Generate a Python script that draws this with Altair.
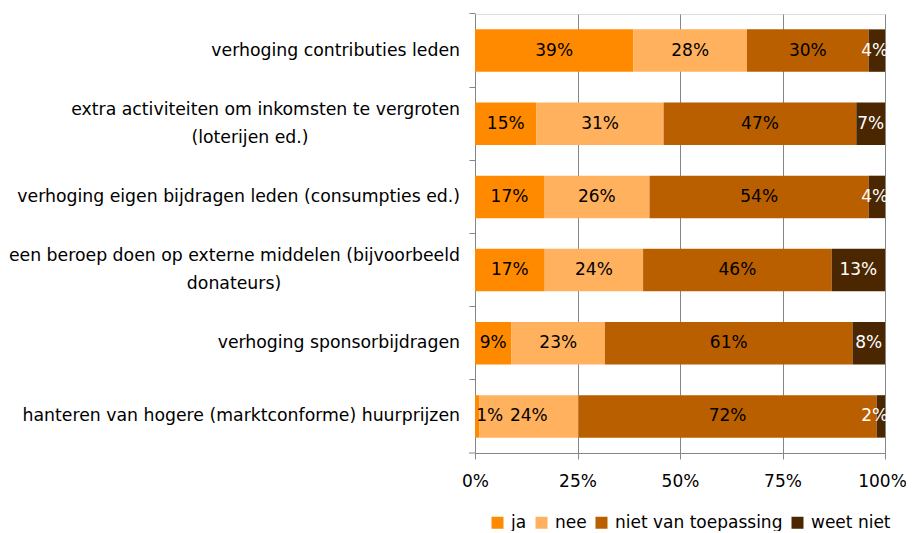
import altair as alt
import pandas as pd

categories = [
    "verhoging contributies leden",
    "extra activiteiten om inkomsten te vergroten (loterijen ed.)",
    "verhoging eigen bijdragen leden (consumpties ed.)",
    "een beroep doen op externe middelen (bijvoorbeeld donateurs)",
    "verhoging sponsorbijdragen",
    "hanteren van hogere (marktconforme) huurprijzen",
]
# how each category label is wrapped in the picture
label_lines = [
    ["verhoging contributies leden"],
    ["extra activiteiten om inkomsten te vergroten", "(loterijen ed.)"],
    ["verhoging eigen bijdragen leden (consumpties ed.)"],
    ["een beroep doen op externe middelen (bijvoorbeeld", "donateurs)"],
    ["verhoging sponsorbijdragen"],
    ["hanteren van hogere (marktconforme) huurprijzen"],
]
series = ["ja", "nee", "niet van toepassing", "weet niet"]
ja = [39, 15, 17, 17, 9, 1]
nee = [28, 31, 26, 24, 23, 24]
niet = [30, 47, 54, 46, 61, 72]
weet = [4, 7, 4, 13, 8, 2]
colors = ["#FF8A00", "#FFB15E", "#B95F00", "#4A2700"]
x_ticks = [0, 0.25, 0.5, 0.75, 1.0]

rows = []
for i, cat in enumerate(categories):
    vals = [ja[i], nee[i], niet[i], weet[i]]
    total = sum(vals)
    cum = 0
    for j, s in enumerate(series):
        start = cum / total
        cum += vals[j]
        end = cum / total
        mid = (start + end) / 2
        rows.append({
            "cat": cat, "serie": s, "value": vals[j],
            "start": start, "end": end,
            "mid": min(max(mid, 0.036), 0.975),
            "label": f"{vals[j]}%",
            "dark": s == "weet niet",
        })
df = pd.DataFrame(rows)

lrows = []
for i, (cat, lines) in enumerate(zip(categories, label_lines)):
    for k, line in enumerate(lines):
        kind = "single" if len(lines) == 1 else ("first" if k == 0 else "second")
        lrows.append({"cat": cat, "line": line, "kind": kind, "row": i})
ldf = pd.DataFrame(lrows)

FONT = "DejaVu Sans"
GRID = "#868686"
PAD_INNER = 0.42
LFS = 17.3

yscale = alt.Scale(domain=categories, paddingInner=PAD_INNER, paddingOuter=PAD_INNER / 2)

y_enc = alt.Y(
    "cat:N", sort=categories, title=None, scale=yscale,
    axis=alt.Axis(
        labels=False, tickSize=6, tickColor=GRID, domainColor=GRID,
        bandPosition=-(PAD_INNER / 2) / (1 - PAD_INNER), grid=False,
    ),
)

bars = alt.Chart(df).mark_bar(opacity=1, strokeWidth=0).encode(
    y=y_enc,
    x=alt.X(
        "start:Q", title=None,
        scale=alt.Scale(domain=[0, 1], nice=False),
        axis=alt.Axis(
            values=x_ticks, format="%", labelFontSize=17, labelFont=FONT,
            labelColor="#000000", labelPadding=14, tickSize=6,
            tickColor=GRID, domainColor=GRID, grid=True, gridColor=GRID,
            gridOpacity=1, labelFlush=False,
            labelOffset={"condition": {"test": "datum.value == 1", "value": -3}, "value": 0},
        ),
    ),
    x2="end:Q",
    color=alt.Color(
        "serie:N", sort=series,
        scale=alt.Scale(domain=series, range=colors),
        legend=alt.Legend(
            title=None, orient="none", direction="horizontal",
            legendX=14, legendY=500, symbolType="square", symbolSize=144,
            symbolStrokeWidth=0, symbolOpacity=1, labelFontSize=17,
            labelFont=FONT, labelColor="#000000", columnPadding=6,
            labelOffset=5, labelLimit=400,
        ),
    ),
)

labels = alt.Chart(df).mark_text(fontSize=17, font=FONT, baseline="middle").encode(
    y=alt.Y("cat:N", sort=categories, scale=yscale),
    x=alt.X("mid:Q"),
    text="label:N",
    color=alt.condition("datum.dark", alt.value("#FFFFFF"), alt.value("#000000")),
)


def ylabel_layer(test, dy, x, align):
    return alt.Chart(ldf).transform_filter(test).mark_text(
        fontSize=LFS, font=FONT, align=align, baseline="middle",
        color="#000000", dy=dy,
    ).encode(
        y=alt.Y("cat:N", sort=categories, scale=yscale),
        x=alt.value(x),
        text="line:N",
    )


ylab_single = ylabel_layer("datum.kind == 'single'", 0, -15, "right")
ylab_first = ylabel_layer("datum.kind == 'first'", -14, -15, "right")
ylab_second_a = ylabel_layer("datum.kind == 'second' && datum.row == 1", 14, -225, "center")
ylab_second_b = ylabel_layer("datum.kind == 'second' && datum.row == 3", 14, -241, "center")

bottom_tick = alt.Chart(ldf.head(1)).mark_rule(color=GRID).encode(
    x=alt.value(-6), x2=alt.value(0), y=alt.value(439),
)

chart = alt.layer(
    bars, labels, ylab_single, ylab_first, ylab_second_a, ylab_second_b, bottom_tick,
).properties(
    width=410, height=439,
    autosize=alt.AutoSizeParams(type="none"),
    padding={"left": 467, "top": 6, "right": 21, "bottom": 78},
).configure_view(stroke=None).configure(background="#FFFFFF")

chart.save("out.html", embed_options={"renderer": "svg", "actions": False})
